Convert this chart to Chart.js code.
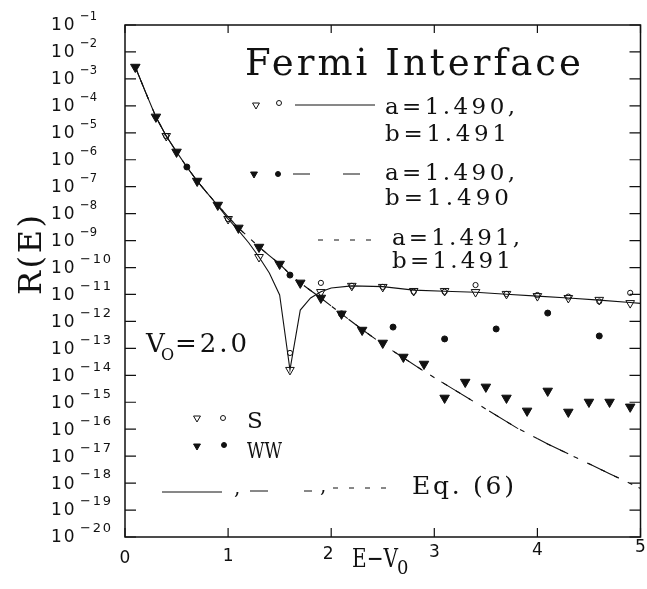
<!DOCTYPE html>
<html>
<head>
<meta charset="utf-8">
<script src="https://cdn.jsdelivr.net/npm/chart.js@4.4.0/dist/chart.umd.min.js"></script>
<style>
  html, body { margin: 0; padding: 0; background: #fff; }
  #wrap { width: 647px; height: 589px; }
</style>
</head>
<body>
<div id="wrap"><canvas id="fermiChart" width="647" height="589"></canvas></div>
<script>
// values are log10 R(E)

// y axis decades 10^-1 .. 10^-20, x ticks
const yExponents = [-1, -2, -3, -4, -5, -6, -7, -8, -9, -10, -11, -12, -13, -14, -15, -16, -17, -18, -19, -20];
const xTickValues = [0, 1, 2, 3, 4, 5];

// Eq. (6), a=1.490 b=1.491 (solid)
const eqAX   = [0.1, 0.2, 0.3, 0.4, 0.5, 0.6, 0.7, 0.8, 0.9, 1.0, 1.1, 1.2, 1.3, 1.4, 1.5, 1.6, 1.7, 1.8, 1.9, 2.0, 2.2, 2.5, 2.8, 3.1, 3.4, 3.7, 4.0, 4.3, 4.6, 4.9, 5.0];
const eqAExp = [-2.56, -3.50, -4.41, -5.12, -5.71, -6.27, -6.79, -7.25, -7.70, -8.20, -8.62, -9.08, -9.61, -10.20, -11.02, -13.80, -11.58, -11.13, -10.90, -10.76, -10.68, -10.71, -10.84, -10.88, -10.92, -10.99, -11.06, -11.13, -11.21, -11.30, -11.33];

// Eq. (6), a=1.490 b=1.490 (long dash); a=1.491 b=1.491 (dotted) lies on top of it
const eqBX   = [0.1, 0.2, 0.3, 0.4, 0.5, 0.6, 0.7, 0.8, 0.9, 1.0, 1.1, 1.2, 1.3, 1.4, 1.5, 1.6, 1.7, 1.8, 1.9, 2.0, 2.1, 2.3, 2.5, 2.7, 2.9, 3.2, 3.5, 3.8, 4.1, 4.4, 4.7, 5.0];
const eqBExp = [-2.56, -3.50, -4.41, -5.12, -5.71, -6.27, -6.79, -7.25, -7.68, -8.12, -8.53, -8.88, -9.24, -9.56, -9.87, -10.25, -10.57, -10.85, -11.13, -11.43, -11.72, -12.30, -12.85, -13.35, -13.85, -14.55, -15.25, -15.95, -16.55, -17.10, -17.65, -18.20];

// open triangles / open circles (a=1.490, b=1.491)
const openTriX   = [0.4, 1.0, 1.3, 1.6, 1.9, 2.2, 2.5, 2.8, 3.1, 3.4, 3.7, 4.0, 4.3, 4.6, 4.9];
const openTriExp = [-5.12, -8.20, -9.61, -13.80, -10.91, -10.68, -10.72, -10.87, -10.87, -10.91, -10.98, -11.06, -11.13, -11.20, -11.32];
const openDotX   = [0.4, 1.0, 1.6, 1.9, 2.2, 2.5, 2.8, 3.1, 3.4, 3.7, 4.0, 4.3, 4.6, 4.9];
const openDotExp = [-5.12, -8.20, -13.17, -10.57, -10.68, -10.72, -10.90, -10.90, -10.65, -10.98, -11.02, -11.08, -11.26, -10.94];

// filled triangles / filled circles (a=1.490, b=1.490)
const fillTriX   = [0.1, 0.3, 0.5, 0.7, 0.9, 1.1, 1.3, 1.5, 1.7, 1.9, 2.1, 2.3, 2.5, 2.7, 2.9, 3.1, 3.3, 3.5, 3.7, 3.9, 4.1, 4.3, 4.5, 4.7, 4.9];
const fillTriExp = [-2.56, -4.41, -5.71, -6.79, -7.68, -8.53, -9.24, -9.87, -10.57, -11.13, -11.72, -12.32, -12.80, -13.32, -13.58, -14.84, -14.25, -14.43, -14.84, -15.32, -14.58, -15.36, -14.99, -14.99, -15.17];
const fillDotX   = [0.6, 1.6, 2.1, 2.6, 3.1, 3.6, 4.1, 4.6];
const fillDotExp = [-6.27, -10.28, -11.72, -12.21, -12.65, -12.28, -11.69, -12.54];

const INK = '#111';
const SERIF = '"DejaVu Serif", serif';
const SANS = '"DejaVu Sans", sans-serif';

function toPoints(xs, exps) {
    return xs.map((x, i) => ({ x: x, y: Math.pow(10, exps[i]) }));
}

// draws text so that it spans roughly `width` px (letter spacing or squeeze)
function fitText(ctx, str, x, y, font, width) {
    ctx.font = font;
    ctx.letterSpacing = '0px';
    const w = ctx.measureText(str).width;
    if (!width) { ctx.fillText(str, x, y); return; }
    if (w <= width) {
        ctx.letterSpacing = ((width - w) / Math.max(1, str.length - 1)) + 'px';
        ctx.fillText(str, x, y);
        ctx.letterSpacing = '0px';
    } else {
        ctx.save();
        ctx.translate(x, y);
        ctx.scale(width / w, 1);
        ctx.fillText(str, 0, 0);
        ctx.restore();
    }
}

function legendTri(ctx, x, y, r, filled) {
    ctx.beginPath();
    ctx.moveTo(x, y + r);
    ctx.lineTo(x - r * 0.866, y - r / 2);
    ctx.lineTo(x + r * 0.866, y - r / 2);
    ctx.closePath();
    if (filled) ctx.fill();
    ctx.stroke();
}

function legendDot(ctx, x, y, r, filled) {
    ctx.beginPath();
    ctx.arc(x, y, r, 0, Math.PI * 2);
    if (filled) ctx.fill();
    ctx.stroke();
}

function legendLine(ctx, x1, x2, y, dash) {
    ctx.save();
    ctx.setLineDash(dash);
    ctx.beginPath();
    ctx.moveTo(x1, y);
    ctx.lineTo(x2, y);
    ctx.stroke();
    ctx.restore();
}

const framePlugin = {
    id: 'frame',
    afterDraw(chart) {
        const ctx = chart.ctx;
        const a = chart.chartArea;
        const xs = chart.scales.x;
        const ys = chart.scales.y;
        ctx.save();
        ctx.strokeStyle = INK;
        ctx.fillStyle = INK;

        // box + inward ticks
        ctx.lineWidth = 1.5;
        ctx.strokeRect(a.left, a.top, a.right - a.left, a.bottom - a.top);
        ctx.lineWidth = 1.2;
        ctx.beginPath();
        yExponents.forEach(e => {
            const py = ys.getPixelForValue(Math.pow(10, e));
            ctx.moveTo(a.left, py); ctx.lineTo(a.left + 11, py);
            ctx.moveTo(a.right, py); ctx.lineTo(a.right - 11, py);
        });
        xTickValues.forEach(v => {
            const px = xs.getPixelForValue(v);
            ctx.moveTo(px, a.top); ctx.lineTo(px, a.top + 8);
            ctx.moveTo(px, a.bottom); ctx.lineTo(px, a.bottom - 9);
        });
        ctx.stroke();

        // y tick labels 10^-n
        ctx.textBaseline = 'middle';
        ctx.textAlign = 'left';
        yExponents.forEach(e => {
            const py = ys.getPixelForValue(Math.pow(10, e));
            fitText(ctx, '10', 51, py + 1, '17px ' + SANS, 23.5);
            const sup = '\u2212' + Math.abs(e);
            fitText(ctx, sup, 80, py - 8, '13px ' + SANS, Math.abs(e) >= 10 ? 31 : 17);
        });

        // x tick labels
        ctx.textAlign = 'center';
        ctx.font = '17px ' + SANS;
        xTickValues.forEach(v => {
            const px = xs.getPixelForValue(v);
            ctx.fillText(String(v), px + (v === 2 ? -3 : 0), 559 - 2.2 * v);
        });

        ctx.textBaseline = 'alphabetic';
        ctx.textAlign = 'left';

        // axis titles
        fitText(ctx, 'E\u2212V', 352, 567, '26px ' + SERIF, 46);
        ctx.font = '18px ' + SERIF;
        ctx.fillText('0', 397, 574);
        ctx.save();
        ctx.translate(41, 254);
        ctx.rotate(-Math.PI / 2);
        fitText(ctx, 'R(E)', -41, 0, '32px ' + SERIF, 80);
        ctx.restore();

        // title and case labels
        fitText(ctx, 'Fermi Interface', 245, 75, '37px ' + SERIF, 336);
        fitText(ctx, 'a=1.490,', 385, 114, '23px ' + SERIF, 130);
        fitText(ctx, 'b=1.491', 385, 141, '23px ' + SERIF, 122);
        fitText(ctx, 'a=1.490,', 385, 180, '23px ' + SERIF, 130);
        fitText(ctx, 'b=1.490', 385, 205, '23px ' + SERIF, 124);
        fitText(ctx, 'a=1.491,', 392, 245, '23px ' + SERIF, 128);
        fitText(ctx, 'b=1.491', 392, 268, '23px ' + SERIF, 119);

        // V0 = 2.0
        ctx.font = '26px ' + SERIF;
        ctx.fillText('V', 146, 352);
        ctx.font = '16px ' + SERIF;
        ctx.fillText('O', 161, 360);
        fitText(ctx, '=2.0', 175, 352, '26px ' + SERIF, 72);

        // method legend
        fitText(ctx, 'S', 247, 428, '23px ' + SERIF);
        fitText(ctx, 'WW', 247, 458, '23px ' + SERIF, 35);
        fitText(ctx, 'Eq. (6)', 412, 494, '25px ' + SERIF, 102);

        // legend symbols
        ctx.lineWidth = 1;
        legendTri(ctx, 256, 105, 4, false);
        legendDot(ctx, 279, 103, 2.5, false);
        legendLine(ctx, 295, 375, 105, []);
        legendTri(ctx, 254, 174, 4, true);
        legendDot(ctx, 278, 174, 2.5, true);
        legendLine(ctx, 293, 373, 174, [17, 33]);
        legendLine(ctx, 318, 374, 240, [5, 11]);

        legendTri(ctx, 197, 418, 4, false);
        legendDot(ctx, 223, 418, 2.5, false);
        legendTri(ctx, 197, 446, 4, true);
        legendDot(ctx, 224, 445, 2.5, true);

        legendLine(ctx, 162, 222, 492, []);
        legendLine(ctx, 250, 312, 491, [18, 36]);
        legendLine(ctx, 333, 396, 488, [5, 11]);
        ctx.font = '20px ' + SERIF;
        ctx.fillText(',', 234, 494);
        ctx.fillText(',', 320, 492);

        ctx.restore();
    }
};

const lineStyle = { borderColor: INK, borderWidth: 1.1, pointRadius: 0, fill: false, tension: 0 };
const markStyle = { showLine: false, borderColor: INK, borderWidth: 1 };

new Chart(document.getElementById('fermiChart').getContext('2d'), {
    type: 'line',
    data: {
        datasets: [
            Object.assign({ label: 'Eq.(6) a=1.490 b=1.491', data: toPoints(eqAX, eqAExp), order: 10 }, lineStyle),
            Object.assign({ label: 'Eq.(6) a=1.490 b=1.490', data: toPoints(eqBX, eqBExp), borderDash: [34, 22], order: 11 }, lineStyle),
            Object.assign({ label: 'Eq.(6) a=1.491 b=1.491', data: toPoints(eqBX, eqBExp), borderDash: [5, 10], order: 12 }, lineStyle),
            Object.assign({ label: 'open tri', data: toPoints(openTriX, openTriExp), pointStyle: 'triangle', rotation: 180, pointRadius: 5, backgroundColor: 'rgba(0,0,0,0)', order: 3 }, markStyle),
            Object.assign({ label: 'open dot', data: toPoints(openDotX, openDotExp), pointStyle: 'circle', pointRadius: 2.6, backgroundColor: 'rgba(0,0,0,0)', order: 2 }, markStyle),
            Object.assign({ label: 'filled tri', data: toPoints(fillTriX, fillTriExp), pointStyle: 'triangle', rotation: 180, pointRadius: 5.5, backgroundColor: INK, order: 1 }, markStyle),
            Object.assign({ label: 'filled dot', data: toPoints(fillDotX, fillDotExp), pointStyle: 'circle', pointRadius: 3, backgroundColor: INK, order: 0 }, markStyle)
        ]
    },
    options: {
        responsive: false,
        animation: false,
        devicePixelRatio: 1,
        layout: { padding: { left: 125, top: 25, right: 4, bottom: 52 } },
        plugins: { legend: { display: false }, tooltip: { enabled: false } },
        scales: {
            x: {
                type: 'linear', min: 0, max: 5,
                ticks: { display: false }, grid: { display: false }, border: { display: false },
                afterFit: s => { s.height = 0; }
            },
            y: {
                type: 'logarithmic', min: 1e-20, max: 1e-1,
                ticks: { display: false }, grid: { display: false }, border: { display: false },
                afterFit: s => { s.width = 0; }
            }
        }
    },
    plugins: [framePlugin]
});
</script>
</body>
</html>
